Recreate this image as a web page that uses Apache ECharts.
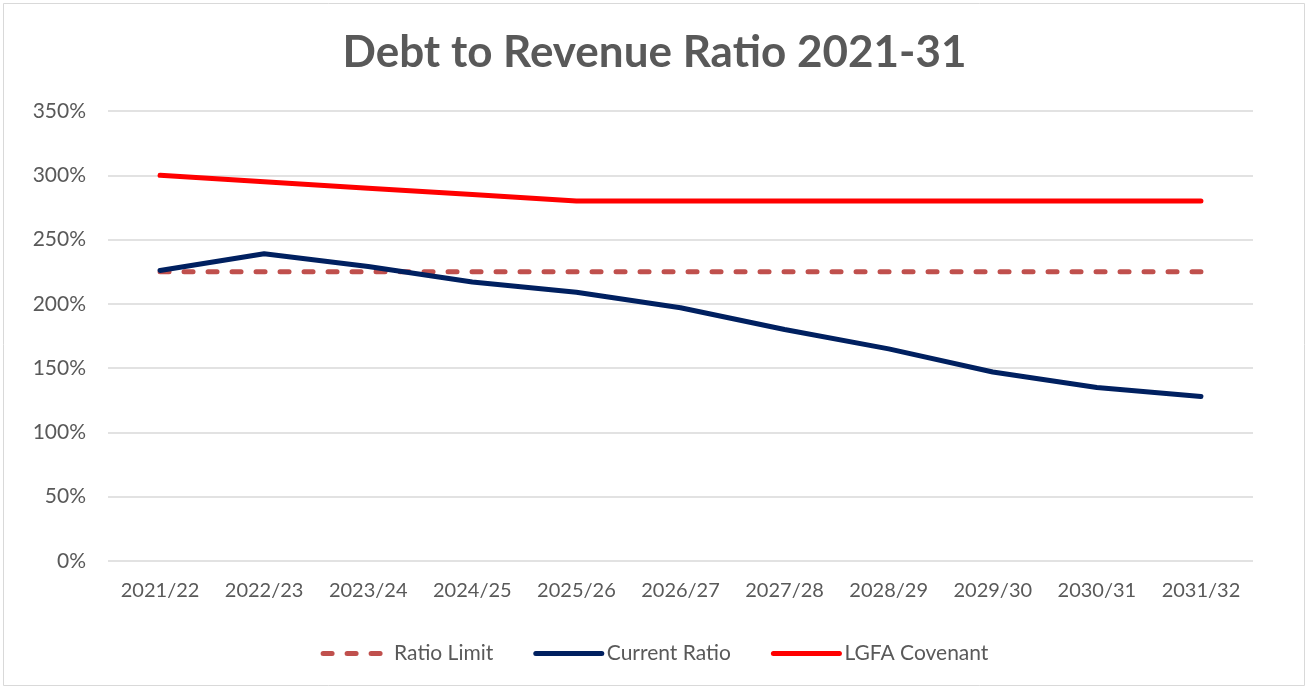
<!DOCTYPE html>
<html>
<head>
<meta charset="utf-8">
<script src="https://cdn.jsdelivr.net/npm/echarts@6/dist/echarts.min.js"></script>
<style>
  html, body { margin: 0; padding: 0; background: #fff; }
  #chart { width: 1309px; height: 690px; }
</style>
</head>
<body>
<div id="chart"></div>
<script>
const years = ['2021/22', '2022/23', '2023/24', '2024/25', '2025/26', '2026/27',
  '2027/28', '2028/29', '2029/30', '2030/31', '2031/32'];
const ratioLimit = [225, 225, 225, 225, 225, 225, 225, 225, 225, 225, 225];
const currentRatio = [226, 239, 229, 217, 209, 197, 180, 165, 147, 135, 128];
const lgfaCovenant = [300, 295, 290, 285, 280, 280, 280, 280, 280, 280, 280];

const font = 'Lato, "Open Sans", sans-serif';
const textColor = '#595959';

const myChart = echarts.init(document.getElementById('chart'));

const option = {
  backgroundColor: '#fff',
  animation: false,
  graphic: [
    {
      type: 'rect',
      shape: { x: 3.5, y: 3.5, width: 1301, height: 682 },
      style: { fill: 'none', stroke: '#d9d9d9', lineWidth: 1 },
    },
  ],
  title: {
    text: 'Debt to Revenue Ratio 2021-31',
    left: 'center',
    top: 26,
    textStyle: {
      fontFamily: font,
      fontSize: 44,
      fontWeight: 'bold',
      color: textColor,
    },
  },
  legend: {
    bottom: 21,
    left: 'center',
    itemWidth: 66,
    itemHeight: 10,
    itemGap: 40,
    itemStyle: { opacity: 0 },
    lineStyle: { width: 5, cap: 'round' },
    textStyle: { fontFamily: font, fontSize: 21, color: textColor },
    data: ['Ratio Limit', 'Current Ratio', 'LGFA Covenant'],
  },
  grid: { left: 108, right: 56, top: 111, bottom: 129 },
  xAxis: {
    type: 'category',
    data: years,
    boundaryGap: true,
    axisLine: { show: false },
    axisTick: { show: false },
    axisLabel: { interval: 0, margin: 20, fontFamily: font, fontSize: 20, color: textColor },
  },
  yAxis: {
    type: 'value',
    min: 0,
    max: 350,
    interval: 50,
    axisLine: { show: false },
    axisTick: { show: false },
    axisLabel: {
      margin: 22,
      fontFamily: font,
      fontSize: 21,
      color: textColor,
      formatter: (v) => v + '%',
    },
    splitLine: { lineStyle: { color: '#d9d9d9', width: 1.5 } },
  },
  series: [
    {
      name: 'Ratio Limit',
      type: 'line',
      data: ratioLimit,
      symbol: 'none',
      itemStyle: { color: '#C0504D' },
      lineStyle: { color: '#C0504D', width: 5, type: [9, 15], cap: 'round' },
    },
    {
      name: 'Current Ratio',
      type: 'line',
      data: currentRatio,
      symbol: 'none',
      itemStyle: { color: '#002060' },
      lineStyle: { color: '#002060', width: 5, cap: 'round', join: 'round' },
    },
    {
      name: 'LGFA Covenant',
      type: 'line',
      data: lgfaCovenant,
      symbol: 'none',
      itemStyle: { color: '#FF0000' },
      lineStyle: { color: '#FF0000', width: 5, cap: 'round', join: 'round' },
    },
  ],
};

myChart.setOption(option);
</script>
</body>
</html>
